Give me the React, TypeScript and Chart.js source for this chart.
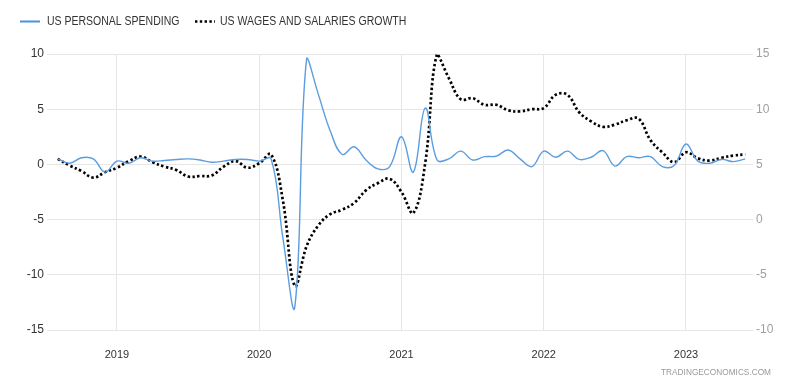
import React, { useEffect, useRef } from "react";
import { Chart, registerables } from "chart.js";

Chart.register(...registerables);

// Monthly observations from August 2018 through June 2023
const FIRST_YEAR = 2018;
const FIRST_MONTH = 8;

// US personal spending, month-over-month % change (left axis)
const personalSpending = [
  0.5, 0.1, 0.6, 0.5, -0.7,
  0.3, 0.1, 0.6, 0.3, 0.35, 0.45, 0.5, 0.4, 0.2, 0.3, 0.45, 0.45,
  0.3, 0.5, -6.7, -12.9, 9.6, 6.3, 3.0, 0.9, 1.6, 0.4, -0.4, -0.2,
  2.5, -0.7, 5.1, 0.4, 0.5, 1.2, 0.4, 0.7, 0.75, 1.3, 0.5, -0.2,
  1.2, 0.65, 1.2, 0.45, 0.65, 1.25, -0.15, 0.7, 0.6, 0.7, -0.2, -0.1,
  1.85, 0.3, 0.1, 0.45, 0.25, 0.5,
];

// US wages and salaries, year-over-year % growth (right axis)
const wagesGrowth = [
  5.5, 4.9, 4.4, 3.8, 4.3,
  4.7, 5.3, 5.7, 5.2, 4.8, 4.5, 3.9, 3.95, 4.0, 4.8, 5.3, 4.7,
  5.1, 5.9, 1.7, -6.0, -2.4, -0.5, 0.5, 0.9, 1.5, 2.65, 3.3, 3.7,
  2.5, 0.6, 5.1, 15.0, 12.8, 10.9, 11.0, 10.4, 10.4, 9.9, 9.8, 10.0,
  10.1, 11.3, 11.3, 9.7, 8.9, 8.4, 8.6, 9.0, 9.15, 7.2, 6.1, 5.2,
  6.1, 5.55, 5.35, 5.6, 5.8, 5.9,
];

const yearTicks = [2019, 2020, 2021, 2022, 2023];
const leftRange = [-15, 10];
const rightRange = [-10, 15];
const seriesNames = ["US PERSONAL SPENDING", "US WAGES AND SALARIES GROWTH"];
const sourceLabel = "TRADINGECONOMICS.COM";

const BLUE = "#5b9ddf";
const LEGEND_BLUE = "#4a90e2";
const DOTS = "#000000";
const GRID = "#e6e6e6";
const FONT = "'Liberation Sans', Arial, sans-serif";
const DOT_PATTERN = [2.4, 2.4];

const toPoints = (values: number[]) =>
  values.map((v, i) => ({
    x: FIRST_YEAR + (FIRST_MONTH - 1 + i) / 12,
    y: v,
  }));

// Narrow lettering: draw text squeezed horizontally
function narrowText(ctx: CanvasRenderingContext2D, text: string, x: number, y: number, squeeze: number) {
  ctx.save();
  ctx.translate(x, y);
  ctx.scale(squeeze, 1);
  ctx.fillText(text, 0, 0);
  ctx.restore();
}

// Legend row across the top and the source credit in the bottom-right corner
const decorations = {
  id: "decorations",
  afterDraw(chart: any) {
    const ctx = chart.ctx as CanvasRenderingContext2D;
    ctx.save();
    const y = 21.5;
    ctx.lineWidth = 2;
    ctx.strokeStyle = LEGEND_BLUE;
    ctx.beginPath();
    ctx.moveTo(20, y);
    ctx.lineTo(40, y);
    ctx.stroke();

    ctx.font = `12px ${FONT}`;
    ctx.fillStyle = "#333333";
    ctx.textBaseline = "middle";
    ctx.textAlign = "left";
    narrowText(ctx, seriesNames[0], 47, y + 0.5, 0.875);

    ctx.strokeStyle = DOTS;
    ctx.lineWidth = 2.4;
    ctx.setLineDash(DOT_PATTERN);
    ctx.beginPath();
    ctx.moveTo(195, y);
    ctx.lineTo(215, y);
    ctx.stroke();
    ctx.setLineDash([]);
    narrowText(ctx, seriesNames[1], 220, y + 0.5, 0.875);

    ctx.font = `9px ${FONT}`;
    ctx.fillStyle = "#9a9a9a";
    ctx.textAlign = "right";
    narrowText(ctx, sourceLabel, 771, 373, 0.92);
    ctx.restore();
  },
};

export default function App() {
  const canvasRef = useRef<HTMLCanvasElement | null>(null);

  useEffect(() => {
    const canvas = canvasRef.current;
    if (!canvas) return;
    const chart = new Chart(canvas, {
      type: "line",
      data: {
        datasets: [
          {
            label: seriesNames[0],
            data: toPoints(personalSpending),
            yAxisID: "yLeft",
            borderColor: BLUE,
            borderWidth: 1.4,
            pointRadius: 0,
            tension: 0.4,
            fill: false,
            clip: 6,
          },
          {
            label: seriesNames[1],
            data: toPoints(wagesGrowth),
            yAxisID: "yRight",
            borderColor: DOTS,
            borderWidth: 2.7,
            borderDash: DOT_PATTERN,
            pointRadius: 0,
            tension: 0.4,
            fill: false,
            clip: 6,
          },
        ],
      },
      options: {
        responsive: false,
        animation: false,
        events: [],
        layout: { padding: { top: 54, left: 0, right: 0, bottom: 0 } },
        plugins: {
          legend: { display: false },
          tooltip: { enabled: false },
        },
        scales: {
          x: {
            type: "linear",
            min: 2018.508,
            max: 2023.471,
            afterBuildTicks: (scale: any) => {
              scale.ticks = yearTicks.map((v) => ({ value: v }));
            },
            afterFit: (scale: any) => {
              scale.height = 56;
            },
            grid: { color: GRID, drawTicks: false, lineWidth: 1 },
            border: { display: false },
            ticks: {
              padding: 18,
              color: "#333333",
              font: { family: FONT, size: 11 },
              maxRotation: 0,
              autoSkip: false,
              callback: (v: any) => String(v),
            },
          },
          yLeft: {
            type: "linear",
            position: "left",
            min: leftRange[0],
            max: leftRange[1],
            afterFit: (scale: any) => {
              scale.width = 47;
            },
            grid: { color: GRID, drawTicks: false, lineWidth: 1 },
            border: { display: false },
            ticks: {
              stepSize: 5,
              padding: 3,
              color: "#333333",
              font: { family: FONT, size: 12 },
            },
          },
          yRight: {
            type: "linear",
            position: "right",
            min: rightRange[0],
            max: rightRange[1],
            afterFit: (scale: any) => {
              scale.width = 47;
            },
            grid: { drawOnChartArea: false, drawTicks: false },
            border: { display: false },
            ticks: {
              stepSize: 5,
              padding: 3,
              color: "#a0a0a0",
              font: { family: FONT, size: 12 },
            },
          },
        },
      },
      plugins: [decorations],
    });
    return () => chart.destroy();
  }, []);

  return (
    <div style={{ position: "fixed", left: 0, top: 0, width: 800, height: 386, background: "#ffffff" }}>
      <canvas ref={canvasRef} width={800} height={386} style={{ width: 800, height: 386, display: "block" }} />
    </div>
  );
}
